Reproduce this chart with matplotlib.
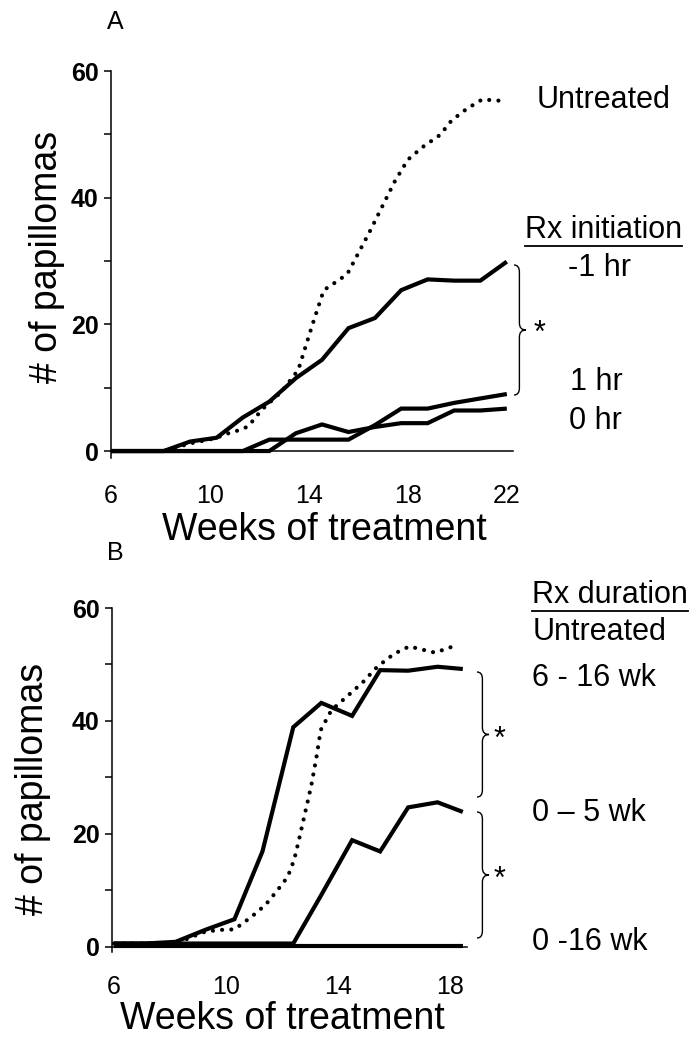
import matplotlib
matplotlib.use("Agg")
import matplotlib.pyplot as plt
from matplotlib.path import Path
from matplotlib.patches import PathPatch
from matplotlib.lines import Line2D

plt.rcParams['font.family'] = ['Liberation Sans', 'DejaVu Sans']

# panel A: timing of treatment start
weeks_a = [6, 7.07, 8.13, 9.2, 10.27, 11.33, 12.4, 13.47, 14.53, 15.6, 16.67, 17.73, 18.8, 19.87, 20.93, 22]
minus1hr_a = [0, 0, 0, 1.5, 2.1, 5.3, 7.8, 11.5, 14.4, 19.4, 21.0, 25.4, 27.1, 26.9, 26.9, 29.9]
plus1hr_a = [0, 0, 0, 0, 0, 0, 1.8, 1.8, 1.8, 1.8, 4.1, 6.7, 6.7, 7.6, 8.3, 9.0]
zerohr_a = [0, 0, 0, 0, 0, 0, 0, 2.8, 4.2, 3.0, 3.8, 4.4, 4.4, 6.4, 6.4, 6.7]
untreated_weeks_a = [6, 8.13, 9.2, 10.2, 10.88, 11.2, 11.55, 11.82, 12.09, 12.9, 13.57, 14.13, 14.6,
                     15.25, 15.56, 16.44, 17.46, 18.0, 18.6, 19.3, 19.77, 20.37, 21.0, 21.76]
untreated_a = [0, 0, 1.2, 2.0, 3.0, 3.3, 3.9, 5.2, 6.5, 9.4, 12.8, 19.8, 25.4,
               27.1, 28.0, 34.5, 42.5, 46.0, 48.0, 49.9, 52.2, 54.0, 55.5, 55.3]

# panel B: duration of treatment
weeks_b = [6.0, 7.1, 8.2, 9.3, 10.3, 11.3, 12.4, 13.4, 14.5, 15.5, 16.5, 17.55, 18.45]
wk6_16_b = [0.6, 0.6, 0.9, 3.1, 4.9, 16.9, 38.9, 43.2, 40.9, 49.0, 48.9, 49.6, 49.2]
wk0_5_b = [0.6, 0.6, 0.6, 0.6, 0.6, 0.6, 0.6, 9.2, 18.9, 16.9, 24.7, 25.6, 23.9]
wk0_16_b = [0.2, 0.2, 0.2, 0.2, 0.2, 0.2, 0.2, 0.2, 0.2, 0.2, 0.2, 0.2, 0.2]
untreated_weeks_b = [6, 8.2, 9.2, 9.7, 10.3, 10.9, 11.4, 11.8, 12.2, 12.43, 12.6, 12.82, 13.04,
                     13.22, 13.38, 13.76, 14.33, 14.87, 15.4, 16.0, 16.54, 17.2, 17.46, 18.1]
untreated_b = [0.6, 0.6, 2.6, 3.0, 3.1, 5.3, 7.4, 9.8, 12.4, 15.4, 18.9, 23.7, 28.5,
               33.4, 38.4, 41.9, 44.4, 46.8, 49.6, 51.9, 53.2, 52.4, 52.1, 53.2]

W, H = 699, 1050
fig = plt.figure(figsize=(W / 100, H / 100), dpi=100)


def fx(px):
    return px / W


def fy(py):
    return 1 - py / H


def axes_px(left, top, right, bottom):
    return fig.add_axes([fx(left), fy(bottom), (right - left) / W, (bottom - top) / H])


solid = dict(color='black', lw=3.0, solid_capstyle='butt', solid_joinstyle='miter')
dotted = dict(color='black', lw=3.0, linestyle=(0, (0.01, 2.2)), dash_capstyle='round')


def style_axis(ax, xlim, ylim, xpad):
    ax.set_xlim(*xlim)
    ax.set_ylim(*ylim)
    for s in ['top', 'right']:
        ax.spines[s].set_visible(False)
    ax.spines['bottom'].set_position(('data', 0))
    ax.spines['left'].set_linewidth(1.1)
    ax.spines['bottom'].set_linewidth(1.1)
    ax.set_yticks([0, 20, 40, 60])
    ax.set_yticks([10, 30, 50], minor=True)
    ax.tick_params(axis='y', which='both', direction='out', length=5, width=1.1, pad=4,
                   labelsize=18)
    for lab in ax.get_yticklabels():
        lab.set_fontweight('bold')
    ax.tick_params(axis='x', length=0, pad=xpad, labelsize=18)
    ax.patch.set_visible(False)


def brace(x, y_top, y_bot, w, r=7):
    ym = (y_top + y_bot) / 2
    xm = x + w * 0.45
    pts = [(x, y_top), (xm, y_top), (xm, y_top + r), (xm, ym - r), (xm, ym), (x + w, ym),
           (xm, ym), (xm, ym + r), (xm, y_bot - r), (xm, y_bot), (x, y_bot)]
    codes = [Path.MOVETO, Path.CURVE3, Path.CURVE3, Path.LINETO, Path.CURVE3, Path.CURVE3,
             Path.CURVE3, Path.CURVE3, Path.LINETO, Path.CURVE3, Path.CURVE3]
    p = Path([(fx(a), fy(b)) for a, b in pts], codes)
    fig.patches.append(PathPatch(p, transform=fig.transFigure, fill=False, lw=1.0, color='black'))


# ---- panel A
axA = axes_px(111, 71, 513, 458)
axA.plot(untreated_weeks_a, untreated_a, **dotted)
axA.plot(weeks_a, minus1hr_a, **solid)
axA.plot(weeks_a, plus1hr_a, **solid)
axA.plot(weeks_a, zerohr_a, **solid)
style_axis(axA, (6, 22.25), (-1.1, 60), 24)
axA.set_xticks([6, 10, 14, 18, 22])
axA.set_xlabel('Weeks of treatment', fontsize=27)
axA.xaxis.set_label_coords(0.53, -0.186)
axA.xaxis.label.set_va('center')
axA.set_ylabel('# of papillomas', fontsize=27)
axA.yaxis.set_label_coords(-0.159, 0.52)
axA.yaxis.label.set_va('center')

fig.text(fx(115), fy(22), 'A', fontsize=18, ha='center', va='center')
fig.text(fx(537), fy(100), 'Untreated', fontsize=22, va='center')
rxA = fig.text(fx(525), fy(230), 'Rx initiation', fontsize=22, va='center')
fig.text(fx(568), fy(268), '-1 hr', fontsize=22, va='center')
fig.text(fx(570), fy(382), '1 hr', fontsize=22, va='center')
fig.text(fx(569), fy(421), '0 hr', fontsize=22, va='center')
fig.text(fx(540), fy(334), '*', fontsize=22, ha='center', va='center')
brace(514, 265, 395, 12)

# ---- panel B
axB = axes_px(112, 608, 467, 952)
axB.plot(untreated_weeks_b, untreated_b, **dotted)
axB.plot(weeks_b, wk0_16_b, **solid)
axB.plot(weeks_b, wk0_5_b, **solid)
axB.plot(weeks_b, wk6_16_b, **solid)
style_axis(axB, (5.93, 18.6), (-0.9, 60), 20)
axB.set_xticks([6, 10, 14, 18])
axB.set_xlabel('Weeks of treatment', fontsize=27)
axB.xaxis.set_label_coords(0.48, -0.195)
axB.xaxis.label.set_va('center')
axB.set_ylabel('# of papillomas', fontsize=27)
axB.yaxis.set_label_coords(-0.223, 0.474)
axB.yaxis.label.set_va('center')

fig.text(fx(115), fy(553), 'B', fontsize=18, ha='center', va='center')
rxB = fig.text(fx(532), fy(595), 'Rx duration', fontsize=22, va='center')
fig.text(fx(533), fy(632), 'Untreated', fontsize=22, va='center')
fig.text(fx(532), fy(678), '6 - 16 wk', fontsize=22, va='center')
fig.text(fx(532), fy(813), '0 \u2013 5 wk', fontsize=22, va='center')
fig.text(fx(532), fy(942), '0 -16 wk', fontsize=22, va='center')
fig.text(fx(499), fy(740), '*', fontsize=22, ha='center', va='center')
fig.text(fx(499), fy(880), '*', fontsize=22, ha='center', va='center')
brace(477, 672, 797, 12)
brace(477, 812, 938, 12)

# underline the two legend headers
fig.canvas.draw()
for t in (rxA, rxB):
    bb = t.get_window_extent()
    y = bb.y0 - 1
    fig.lines.append(Line2D([bb.x0 / W, bb.x1 / W], [y / H, y / H], transform=fig.transFigure,
                            color='black', lw=1.3))

fig.savefig('out.png', dpi=100)
